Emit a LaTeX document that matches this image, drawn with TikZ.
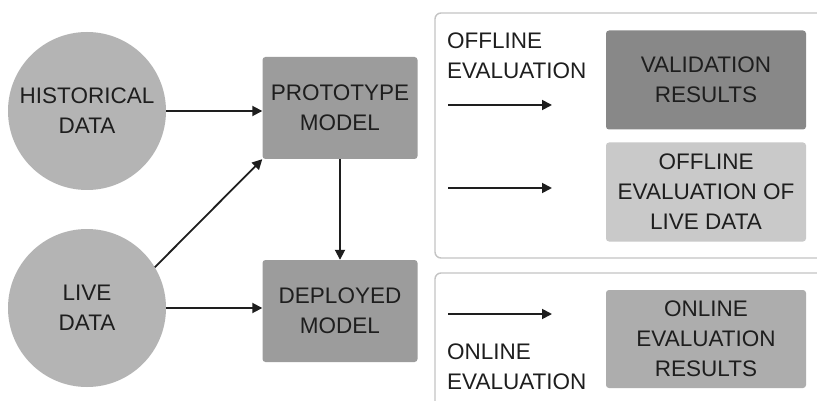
\documentclass[tikz,border=0pt]{standalone}
\usepackage{fontspec}
\setmainfont{Liberation Sans}
\usetikzlibrary{arrows.meta}
\definecolor{circfill}{HTML}{B4B4B4}
\definecolor{modelfill}{HTML}{9C9C9C}
\definecolor{valfill}{HTML}{888888}
\definecolor{livefill}{HTML}{C9C9C9}
\definecolor{onfill}{HTML}{ADADAD}
\definecolor{panelline}{HTML}{C4C4C4}
\definecolor{txt}{HTML}{1E1E1E}
\tikzset{
  txtstyle/.style={font=\fontsize{22.5}{30}\selectfont, text=txt, align=center, inner sep=0pt},
  datacirc/.style={circle, fill=circfill, minimum size=158pt, inner sep=0pt},
  modelbox/.style={rounded corners=3pt, fill=modelfill, minimum width=155pt, minimum height=102pt, inner sep=0pt},
  resbox/.style={rounded corners=3pt, minimum width=200pt, minimum height=99pt, inner sep=0pt},
  panel/.style={draw=panelline, line width=1.4pt, rounded corners=6pt},
  arr/.style={-{Triangle[length=10pt,width=10pt]}, line width=1.8pt, draw=txt},
}
\begin{document}
\begin{tikzpicture}[x=1pt,y=-1pt]
\clip (0,0) rectangle (817,401);
\fill[white] (0,0) rectangle (817,401);
% panels
\draw[panel] (835,13) -- (435,13) -- (435,258) -- (835,258);
\draw[panel] (835,273) -- (435,273) -- (435,430);
% circles
\node[datacirc] (hist) at (87,111) {};
\node[txtstyle] at (hist.center) {HISTORICAL\\DATA};
\node[datacirc] (live) at (87,308) {};
\node[txtstyle] at (live.center) {LIVE\\DATA};
% model boxes
\node[modelbox] (proto) at (340,108) {};
\node[txtstyle] at (proto.center) {PROTOTYPE\\MODEL};
\node[modelbox] (depl) at (340,311) {};
\node[txtstyle] at (depl.center) {DEPLOYED\\MODEL};
% result boxes
\node[resbox, fill=valfill] (val) at (706,80) {};
\node[txtstyle] at (val.center) {VALIDATION\\RESULTS};
\node[resbox, fill=livefill] (offl) at (706,192) {};
\node[txtstyle] at (offl.center) {OFFLINE\\EVALUATION OF\\LIVE DATA};
\node[resbox, fill=onfill, minimum height=98pt] (onl) at (706,339) {};
\node[txtstyle] at (onl.center) {ONLINE\\EVALUATION\\RESULTS};
% labels
\node[txtstyle, align=left, anchor=north west] (offlab) at (447,33) {OFFLINE\\EVALUATION};
\node[txtstyle, align=left, anchor=north west] (onlab) at (447,344) {ONLINE\\EVALUATION};
% connectors
\draw[arr] (hist.east |- 0,111) -- (proto.west |- 0,111);
\draw[arr] (live.east |- 0,308) -- (depl.west |- 0,308);
\draw[arr] (live.31) -- (proto.south west);
\draw[arr] (proto.south) -- (depl.north);
\coordinate (a1s) at (448,105);
\coordinate (a1e) at (552,105);
\coordinate (a2s) at (448,188);
\coordinate (a2e) at (552,188);
\coordinate (a3s) at (448,314);
\coordinate (a3e) at (552,314);
\draw[arr] (a1s) -- (a1e);
\draw[arr] (a2s) -- (a2e);
\draw[arr] (a3s) -- (a3e);
\end{tikzpicture}
\end{document}
